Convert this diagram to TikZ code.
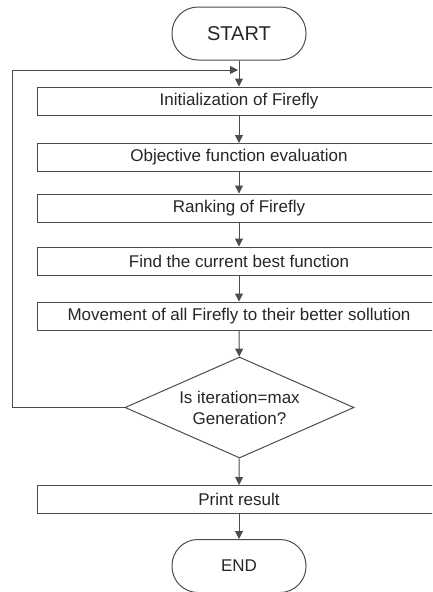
\documentclass[tikz,border=0pt]{standalone}
\usepackage{fontspec}
\setmainfont{Liberation Sans}
\usetikzlibrary{shapes.geometric,arrows.meta}

\begin{document}
\begin{tikzpicture}[x=1pt, y=-1pt,
  line width=1pt,
  every node/.style={text=black!85, font=\fontsize{17}{21}\selectfont},
  stepbox/.style={draw=black!70, rectangle, minimum width=404pt,
    minimum height=28pt, inner sep=0pt},
  termbox/.style={draw=black!70, rectangle, rounded corners=26pt,
    minimum width=134pt, minimum height=53pt},
  testbox/.style={draw=black!70, diamond, aspect=2.27, minimum width=229pt,
    minimum height=101pt, inner sep=0pt, align=center},
  arr/.style={draw=black!70, -{Triangle[length=8pt,width=8pt]}}]
\clip (0,0) rectangle (432,592);

\node[termbox, font=\fontsize{20}{24}\selectfont] (start) at (239,33.5) {START};
\node[termbox] (end) at (239,566) {END};

\foreach \name/\y/\txt in {init/101/Initialization of Firefly,
    objfun/157.5/Objective function evaluation,
    rank/208/Ranking of Firefly,
    best/261/Find the current best function,
    move/316/Movement of all Firefly to their better sollution,
    print/499.5/Print result}
{
  \node[stepbox] (\name) at (239,\y) {\txt};
}

\node[testbox] (check) at (239.5,407.5) {Is iteration=max\\Generation?};

% main flow
\foreach \a/\b in {start/init, init/objfun, objfun/rank, rank/best,
    best/move, move/check, check/print, print/end}
{
  \draw[arr] (\a) -- (\b);
}

% loop back
\coordinate (back) at (12,70);
\coordinate (merge) at (238,70);
\draw[arr] (check.west) -| (back) -- (merge);
\end{tikzpicture}
\end{document}
